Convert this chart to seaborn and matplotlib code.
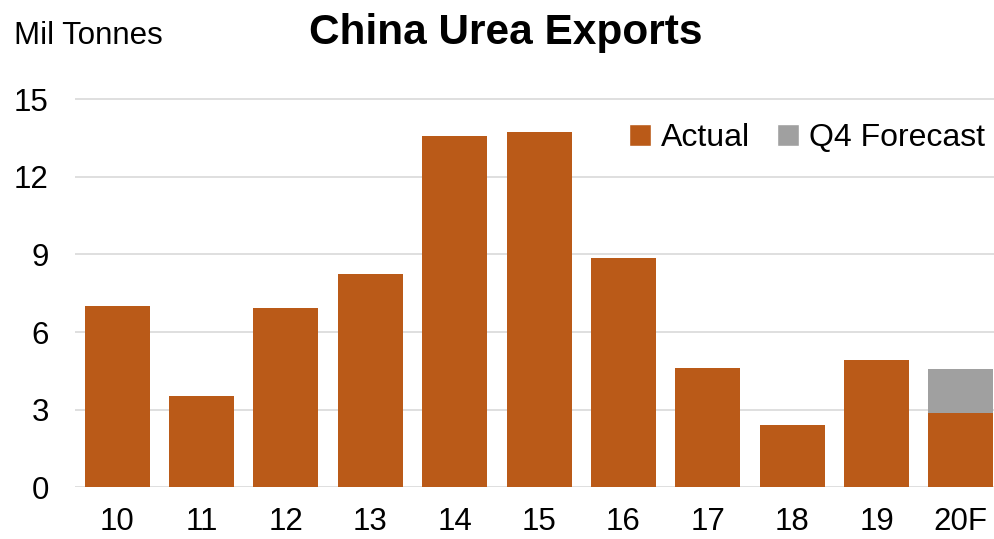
import matplotlib
matplotlib.use("Agg")
import matplotlib.pyplot as plt
from matplotlib.patches import Patch
import seaborn as sns
import pandas as pd

# China urea exports, million tonnes
years = ["10", "11", "12", "13", "14", "15", "16", "17", "18", "19", "20F"]
actual = [7.01, 3.53, 6.94, 8.25, 13.59, 13.75, 8.85, 4.62, 2.42, 4.92, 2.88]
q4_forecast = [0, 0, 0, 0, 0, 0, 0, 0, 0, 0, 1.69]
y_ticks = [0, 3, 6, 9, 12, 15]

ORANGE = "#BA5A18"
GREY = "#A0A0A0"
GRID = "#D9D9D9"

sns.set_theme(style="white")
plt.rcParams["font.family"] = ["Liberation Sans", "DejaVu Sans"]
plt.rcParams["text.color"] = "black"

df = pd.DataFrame({
    "year": years,
    "actual": actual,
    "total": [a + f for a, f in zip(actual, q4_forecast)],
})

fig = plt.figure(figsize=(9.94, 5.39), dpi=100)
ax = fig.add_axes([0.0755, 0.0959, 0.9336, 0.768])

# Stack: full height (actual + forecast) in grey, actual drawn over it
sns.barplot(data=df, x="year", y="total", color=GREY, saturation=1,
            width=0.77, ax=ax, zorder=2, linewidth=0)
sns.barplot(data=df, x="year", y="actual", color=ORANGE, saturation=1,
            width=0.77, ax=ax, zorder=3, linewidth=0)

ax.set_xlim(-0.5, len(years) - 0.5)
ax.set_ylim(0, 16)
ax.set_yticks(y_ticks)
ax.set_yticklabels([str(t) for t in y_ticks])
ax.yaxis.grid(True, color=GRID, linewidth=1.2, zorder=0)
ax.set_axisbelow(True)
for s in ax.spines.values():
    s.set_visible(False)
ax.tick_params(axis="both", length=0, labelsize=22.5, colors="black")
ax.tick_params(axis="y", pad=19)
ax.tick_params(axis="x", pad=14)
ax.set_xlabel("")
ax.set_ylabel("")

fig.text(0.5085, 0.918, "China Urea Exports", ha="center", va="baseline",
         fontsize=30.5, fontweight="bold", color="black")
fig.text(0.014, 0.918, "Mil Tonnes", ha="left", va="baseline",
         fontsize=22.5, color="black")

handles = [Patch(facecolor=ORANGE, label="Actual"),
           Patch(facecolor=GREY, label="Q4 Forecast")]
leg = fig.legend(handles=handles, loc="center right",
                 bbox_to_anchor=(1.01, 0.744),
                 ncol=2, frameon=False, fontsize=23, handlelength=0.7,
                 handleheight=0.7, handletextpad=0.3, columnspacing=0.85,
                 borderaxespad=0.2)
for t in leg.get_texts():
    t.set_color("black")

fig.savefig("out.png", dpi=100)
